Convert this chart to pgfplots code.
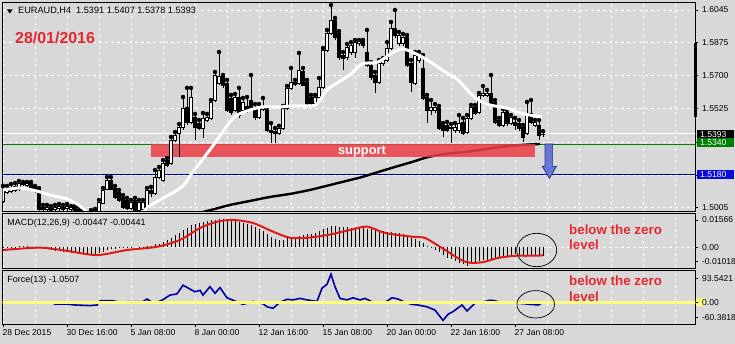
\documentclass[border=0pt]{standalone}
\usepackage{fontspec}
\setmainfont{Liberation Sans}
\usepackage{pgfplots}
\usepackage{pgfplotstable}
\pgfplotsset{compat=1.18}

\definecolor{bgc}{RGB}{216,216,216}
\definecolor{suppred}{RGB}{236,62,72}
\definecolor{lvlgreen}{RGB}{0,128,0}
\definecolor{lvlblue}{RGB}{0,0,170}
\definecolor{boxgreen}{RGB}{0,128,0}
\definecolor{boxblue}{RGB}{10,10,220}
\definecolor{arrowfill}{RGB}{100,120,215}
\definecolor{arrowdraw}{RGB}{40,50,130}
\definecolor{macdred}{RGB}{225,25,25}
\definecolor{forceblue}{RGB}{0,0,165}
\definecolor{zeroyellow}{RGB}{255,255,125}
\definecolor{annred}{RGB}{228,40,48}

\pgfplotstableread{
i o h l c
0 1.5040 1.5119 1.5029 1.5103
1 1.5087 1.5119 1.5077 1.5108
2 1.5092 1.5129 1.5082 1.5114
3 1.5098 1.5134 1.5087 1.5119
4 1.5103 1.5145 1.5092 1.5134
5 1.5134 1.5140 1.5119 1.5129
6 1.5124 1.5140 1.5114 1.5134
7 1.5134 1.5140 1.5092 1.5098
8 1.5114 1.5119 1.5082 1.5092
9 1.5103 1.5108 1.4987 1.4998
10 1.5008 1.5019 1.4982 1.4998
11 1.4998 1.5019 1.4982 1.5008
12 1.5003 1.5013 1.4976 1.4992
13 1.4998 1.5019 1.4982 1.5008
14 1.5003 1.5024 1.4987 1.5013
15 1.5008 1.5019 1.4982 1.4998
16 1.5003 1.5024 1.4987 1.5013
17 1.4998 1.5013 1.4982 1.5008
18 1.5008 1.5013 1.4976 1.4992
19 1.4998 1.5008 1.4971 1.4982
20 1.4987 1.4992 1.4961 1.4971
21 1.4971 1.4987 1.4961 1.4982
22 1.4987 1.4992 1.4961 1.4971
23 1.4976 1.4998 1.4966 1.4992
24 1.4987 1.5045 1.4976 1.5035
25 1.5029 1.5108 1.5024 1.5098
26 1.5103 1.5166 1.5098 1.5150
27 1.5150 1.5166 1.5098 1.5103
28 1.5108 1.5119 1.5050 1.5061
29 1.5087 1.5098 1.5035 1.5045
30 1.5061 1.5071 1.4998 1.5008
31 1.5045 1.5056 1.4992 1.5003
32 1.5003 1.5045 1.4992 1.5035
33 1.5045 1.5056 1.4982 1.4992
34 1.4992 1.5045 1.4982 1.5035
35 1.4998 1.5045 1.4987 1.5035
36 1.5003 1.5108 1.4992 1.5098
37 1.5098 1.5114 1.5061 1.5082
38 1.5082 1.5203 1.5071 1.5166
39 1.5166 1.5219 1.5155 1.5203
40 1.5150 1.5255 1.5140 1.5240
41 1.5255 1.5266 1.5219 1.5229
42 1.5240 1.5377 1.5229 1.5361
43 1.5361 1.5403 1.5350 1.5387
44 1.5398 1.5445 1.5271 1.5429
45 1.5429 1.5587 1.5413 1.5529
46 1.5535 1.5635 1.5440 1.5456
47 1.5456 1.5635 1.5445 1.5587
48 1.5482 1.5498 1.5361 1.5429
49 1.5450 1.5466 1.5413 1.5424
50 1.5424 1.5503 1.5371 1.5477
51 1.5466 1.5498 1.5456 1.5482
52 1.5477 1.5571 1.5466 1.5561
53 1.5571 1.5719 1.5561 1.5703
54 1.5661 1.5824 1.5650 1.5698
55 1.5698 1.5703 1.5635 1.5650
56 1.5661 1.5677 1.5508 1.5519
57 1.5582 1.5598 1.5492 1.5508
58 1.5519 1.5603 1.5508 1.5587
59 1.5587 1.5635 1.5477 1.5492
60 1.5519 1.5582 1.5508 1.5561
61 1.5540 1.5587 1.5503 1.5519
62 1.5571 1.5703 1.5519 1.5529
63 1.5535 1.5550 1.5466 1.5482
64 1.5482 1.5550 1.5471 1.5535
65 1.5524 1.5582 1.5513 1.5540
66 1.5519 1.5529 1.5403 1.5413
67 1.5413 1.5450 1.5345 1.5403
68 1.5408 1.5424 1.5345 1.5398
69 1.5398 1.5435 1.5387 1.5424
70 1.5424 1.5540 1.5413 1.5529
71 1.5529 1.5645 1.5519 1.5635
72 1.5635 1.5740 1.5624 1.5666
73 1.5666 1.5677 1.5645 1.5656
74 1.5661 1.5819 1.5650 1.5729
75 1.5724 1.5740 1.5645 1.5650
76 1.5666 1.5677 1.5540 1.5556
77 1.5587 1.5598 1.5535 1.5556
78 1.5556 1.5598 1.5540 1.5587
79 1.5587 1.5687 1.5577 1.5640
80 1.5640 1.5845 1.5629 1.5834
81 1.5834 1.5940 1.5824 1.5924
82 1.5924 1.6071 1.5913 1.5992
83 1.5992 1.6003 1.5887 1.5903
84 1.5924 1.5934 1.5782 1.5798
85 1.5808 1.5824 1.5729 1.5792
86 1.5798 1.5866 1.5782 1.5850
87 1.5824 1.5876 1.5808 1.5861
88 1.5824 1.5887 1.5792 1.5876
89 1.5871 1.5887 1.5855 1.5882
90 1.5882 1.5887 1.5845 1.5861
91 1.5824 1.5940 1.5745 1.5755
92 1.5755 1.5771 1.5677 1.5693
93 1.5703 1.5719 1.5608 1.5666
94 1.5666 1.5782 1.5656 1.5766
95 1.5766 1.5792 1.5750 1.5782
96 1.5782 1.5876 1.5771 1.5845
97 1.5845 1.5982 1.5834 1.5950
98 1.5950 1.6045 1.5897 1.5913
99 1.5871 1.5929 1.5855 1.5913
100 1.5871 1.5919 1.5855 1.5903
101 1.5903 1.5913 1.5745 1.5755
102 1.5766 1.5782 1.5613 1.5666
103 1.5661 1.5824 1.5650 1.5808
104 1.5782 1.5824 1.5766 1.5808
105 1.5740 1.5808 1.5571 1.5582
106 1.5587 1.5598 1.5450 1.5519
107 1.5519 1.5571 1.5492 1.5535
108 1.5519 1.5550 1.5503 1.5535
109 1.5529 1.5540 1.5413 1.5424
110 1.5440 1.5450 1.5377 1.5413
111 1.5440 1.5456 1.5403 1.5413
112 1.5424 1.5445 1.5345 1.5429
113 1.5413 1.5450 1.5398 1.5429
114 1.5413 1.5492 1.5398 1.5450
115 1.5456 1.5477 1.5387 1.5398
116 1.5403 1.5492 1.5392 1.5477
117 1.5477 1.5545 1.5466 1.5535
118 1.5535 1.5545 1.5492 1.5503
119 1.5508 1.5608 1.5498 1.5598
120 1.5598 1.5645 1.5587 1.5608
121 1.5598 1.5624 1.5587 1.5608
122 1.5608 1.5703 1.5545 1.5556
123 1.5561 1.5571 1.5445 1.5456
124 1.5466 1.5477 1.5429 1.5440
125 1.5440 1.5524 1.5429 1.5508
126 1.5508 1.5519 1.5435 1.5450
127 1.5450 1.5492 1.5440 1.5482
128 1.5456 1.5477 1.5413 1.5440
129 1.5450 1.5466 1.5408 1.5424
130 1.5429 1.5440 1.5350 1.5377
131 1.5398 1.5561 1.5387 1.5492
132 1.5503 1.5571 1.5445 1.5456
133 1.5440 1.5466 1.5429 1.5456
134 1.5440 1.5466 1.5361 1.5387
135 1.5391 1.5407 1.5378 1.5393
}\candles

\pgfplotstableread{
x p
0 1.5098
4.25 1.5108
8.5 1.5092
11.75 1.5071
16 1.5050
18.5 1.5024
20.5 1.4992
21.75 1.4971
28 1.4950
34.25 1.4971
36.25 1.5008
40.5 1.5061
44.75 1.5114
47.25 1.5187
49.75 1.5255
52.25 1.5324
54.75 1.5398
56.75 1.5456
58.5 1.5492
61.75 1.5519
65 1.5535
69.25 1.5535
72.5 1.5540
76.75 1.5540
78.5 1.5550
81 1.5624
83.5 1.5661
86.75 1.5703
89.75 1.5761
93.75 1.5771
97.25 1.5819
99.75 1.5840
102.25 1.5824
104.75 1.5798
107.25 1.5766
110.5 1.5719
113.75 1.5677
116.75 1.5608
119.25 1.5566
121.75 1.5545
124.25 1.5535
126.75 1.5524
129.25 1.5503
131.75 1.5492
134.75 1.5482
}\mawhite

\pgfplotstableread{
x p
48 1.4971
53 1.4998
56.75 1.5019
61.75 1.5040
66.75 1.5061
71.75 1.5077
76.75 1.5098
81.75 1.5124
86.75 1.5150
89.75 1.5166
93.75 1.5192
98 1.5219
102.25 1.5245
106.25 1.5271
110.5 1.5287
115.5 1.5298
119.25 1.5308
124.25 1.5324
129.25 1.5334
134.25 1.5340
}\mablack

\pgfplotstableread{
i v
0 0.0004
1 0.0004
2 0.0005
3 0.0005
4 0.0006
5 0.0006
6 0.0006
7 0.0005
8 0.0004
9 0.0000
10 -0.0006
11 -0.0011
12 -0.0015
13 -0.0018
14 -0.0021
15 -0.0024
16 -0.0026
17 -0.0028
18 -0.0031
19 -0.0033
20 -0.0035
21 -0.0036
22 -0.0037
23 -0.0037
24 -0.0032
25 -0.0024
26 -0.0015
27 -0.0009
28 -0.0006
29 -0.0004
30 -0.0004
31 -0.0003
32 -0.0001
33 0.0000
34 0.0002
35 0.0004
36 0.0008
37 0.0011
38 0.0017
39 0.0022
40 0.0031
41 0.0040
42 0.0054
43 0.0068
44 0.0081
45 0.0098
46 0.0111
47 0.0124
48 0.0130
49 0.0136
50 0.0141
51 0.0146
52 0.0151
53 0.0155
54 0.01566
55 0.01566
56 0.0155
57 0.0152
58 0.0148
59 0.0144
60 0.0137
61 0.0131
62 0.0124
63 0.0115
64 0.0104
65 0.0090
66 0.0076
67 0.0060
68 0.0048
69 0.0042
70 0.0043
71 0.0050
72 0.0056
73 0.0061
74 0.0066
75 0.0070
76 0.0073
77 0.0077
78 0.0083
79 0.0091
80 0.0101
81 0.0110
82 0.0117
83 0.0118
84 0.0116
85 0.0113
86 0.0112
87 0.0110
88 0.0109
89 0.0107
90 0.0106
91 0.0105
92 0.0101
93 0.0097
94 0.0094
95 0.0090
96 0.0088
97 0.0086
98 0.0083
99 0.0079
100 0.0073
101 0.0063
102 0.0052
103 0.0045
104 0.0036
105 0.0024
106 0.0010
107 -0.0001
108 -0.0012
109 -0.0026
110 -0.0042
111 -0.0056
112 -0.0066
113 -0.0077
114 -0.0084
115 -0.0091
116 -0.01018
117 -0.0088
118 -0.0082
119 -0.0076
120 -0.0071
121 -0.0067
122 -0.0063
123 -0.0059
124 -0.0054
125 -0.0049
126 -0.0045
127 -0.0041
128 -0.0038
129 -0.0039
130 -0.0041
131 -0.0042
132 -0.0043
133 -0.0045
134 -0.0046
135 -0.00447
}\macdhist

\pgfplotstableread{
x v
0 -0.0014
9.25 -0.0001
16 -0.0019
23.5 -0.0042
31 -0.0014
38.5 0.0004
44.25 0.0042
49.25 0.0108
53.5 0.0143
57.5 0.0153
62.5 0.0136
67.5 0.0088
71.75 0.0054
76 0.0054
81 0.0069
86.75 0.0097
91 0.0116
95.5 0.0081
102.25 0.0060
105.5 0.0053
109.75 -0.0003
115.5 -0.0079
119.75 -0.0082
123.75 -0.0058
128 -0.0046
130.5 -0.0046
135 -0.00441
}\macdsig

\pgfplotstableread{
x v
8 -3
12.5 -3
13 -6
16 -6
18 -9
21.75 -11
23.5 -9
24.25 5
27.5 5
29.25 0
31.25 2
35 2
36 11
37.25 0
38.5 0
39.75 7
41.75 24
43.5 28
45 57
46.75 44
48 35
49.25 40
50 24
51.75 52
53 30
54.25 49
56 15
57.5 7
60 -7
62.5 3
65 -5
66 -15
67.5 -20
69.25 0
71 10
72.5 8
74.25 13
76 8
78.5 3
79.75 47
81 60
82 93.54
83 52
84.25 13
86 8
87.5 15
89.25 8
90.5 13
93 -3
95.5 0
97.25 15
98.75 11
100.5 0
102.25 -7
103.75 -9
106 -15
108 -26
110 -60.38
111.25 -40
112.5 -31
114.75 -9
116 -29
118 -3
119.75 0
121.75 7
123 5
124.25 0
126.25 -3
128.75 -3
131.25 -6
133.75 -9
135 -1.05
}\force

\pgfplotsset{
  mtgeom/.style={scale only axis, width=692.8bp, xmin=-0.1, xmax=173.1, anchor=south west},
  mtpanel/.style={mtgeom,
    axis line style={black, line width=0.8bp},
    tick style={black, line width=0.8bp},
    grid style={white, line width=0.7bp, dash pattern=on 3bp off 3bp},
    xtick={0,16,32,48,64,80,96,112,128},
    minor xtick={8,24,40,56,72,88,104,120,136,144,152,160,168},
    xmajorgrids, xminorgrids, minor tick length=0pt,
    ymajorgrids,
    scaled y ticks=false, scaled x ticks=false,
    tick align=outside, major tick length=3bp,
    ytick pos=right, yticklabel pos=right,
    xtick pos=left,
    tick label style={font=\fontsize{8.6}{10}\selectfont},
    yticklabel style={anchor=west, inner sep=0pt, xshift=3.5bp},
  },
}

\begin{document}
\begin{tikzpicture}
\fill[bgc] (0,0) rectangle (735bp,344bp);

% main price panel
\begin{axis}[mtpanel, at={(2.6bp,133bp)}, height=208.3bp,
  ymin=1.49871, ymax=1.60834,
  ytick={1.5005,1.5175,1.5350,1.5525,1.5700,1.5875,1.6045},
  yticklabels={1.5005,,,1.5525,1.5700,1.5875,1.6045},
  xticklabels={}, xtick style={draw=none}]
\addplot[white, line width=0.8bp] coordinates {(-1,1.5393) (175,1.5393)};
\addplot[lvlgreen, line width=0.8bp] coordinates {(-1,1.5340) (175,1.5340)};
\addplot[lvlblue, line width=0.8bp] coordinates {(-1,1.5180) (175,1.5180)};
\addplot[black, line width=2.4bp, smooth] table[x=x,y=p] {\mablack};
\fill[suppred, fill opacity=0.86] (axis cs:37,1.5271) rectangle (axis cs:133,1.5340);
\addplot[only marks, mark=none, error bars/.cd, y dir=minus, y explicit, error mark=none,
  error bar style={black, line width=0.8bp}]
  table[x=i, y=h, y error minus expr={\thisrow{h}-\thisrow{l}}] {\candles};
\end{axis}

% candle bodies
\begin{axis}[mtgeom, at={(2.6bp,133bp)}, height=208.3bp,
  ymin=1.49871, ymax=1.60834, hide axis, ybar stacked, bar width=0.72]
\addplot[draw=none, fill=none] table[x=i, y expr={min(\thisrow{o},\thisrow{c})}] {\candles};
\addplot[fill=white, draw=black, line width=0.7bp] table[x=i, y expr={max(\thisrow{c}-\thisrow{o},0)}] {\candles};
\addplot[fill=black, draw=black, line width=0.7bp] table[x=i, y expr={max(\thisrow{o}-\thisrow{c},0)}] {\candles};
\end{axis}

% overlays: white MA, support text, arrow
\begin{axis}[mtgeom, at={(2.6bp,133bp)}, height=208.3bp,
  ymin=1.49871, ymax=1.60834, hide axis]
\addplot[white, line width=3bp, smooth] table[x=x,y=p] {\mawhite};
\node[text=white, font=\bfseries\fontsize{12.9}{14}\selectfont, inner sep=0] at (axis cs:89.75,1.5302) {support};
\filldraw[fill=arrowfill, draw=arrowdraw, line width=0.7bp]
  (axis cs:135.5,1.5340) -- (axis cs:137.4,1.5340) -- (axis cs:137.4,1.5223) -- (axis cs:138.4,1.5223)
  -- (axis cs:136.6,1.5159) -- (axis cs:134.8,1.5223) -- (axis cs:135.5,1.5223) -- cycle;
\end{axis}

% MACD panel
\begin{axis}[mtpanel, at={(2.6bp,75.7bp)}, height=55bp,
  ymin=-0.01156, ymax=0.019,
  ytick={0}, yticklabels={0.00},
  extra y ticks={-0.0079,0.0153}, extra y tick labels={-0.01018,0.01566},
  extra y tick style={grid=none},
  xticklabels={}, xtick style={draw=none}]
\addplot[ycomb, black, line width=0.7bp, no markers] table[x=i,y=v] {\macdhist};
\addplot[macdred, line width=2bp, no markers, smooth] table[x=x,y=v] {\macdsig};
\end{axis}

% yellow highlight behind force 0.00 label
\fill[zeroyellow] (696bp,344bp-298bp) rectangle (704.5bp,344bp-306bp);

% Force panel
\begin{axis}[mtpanel, at={(2.6bp,19.5bp)}, height=53.8bp,
  ymin=-74, ymax=105.3,
  ytick={0}, yticklabels={0.00},
  extra y ticks={-50,80}, extra y tick labels={-60.3818,93.5421},
  extra y tick style={grid=none},
  xticklabels={28 Dec 2015,30 Dec 16:00,5 Jan 08:00,8 Jan 00:00,12 Jan 16:00,15 Jan 08:00,20 Jan 00:00,22 Jan 16:00,27 Jan 08:00},
  xticklabel style={anchor=north west, inner sep=0pt, xshift=-0.5bp, yshift=-1.8bp}]
\addplot[forceblue, line width=1.6bp, no markers] table[x=x,y=v] {\force};
\addplot[zeroyellow, line width=3bp, no markers] coordinates {(-1,0) (175,0)};
\end{axis}

% price labels boxes
\fill[black] (693.5bp,344bp-43.3bp) rectangle (696.5bp,344bp-116.7bp);
\fill[black] (696.7bp,344bp-130bp) rectangle (734bp,344bp-138.3bp);
\node[text=white, anchor=west, inner sep=0, font=\fontsize{8.6}{10}\selectfont] at (700bp,344bp-134.2bp) {1.5393};
\fill[boxgreen] (696.7bp,344bp-138.3bp) rectangle (734bp,344bp-147.3bp);
\node[text=white, anchor=west, inner sep=0, font=\fontsize{8.6}{10}\selectfont] at (700bp,344bp-142.8bp) {1.5340};
\fill[boxblue] (696.7bp,344bp-170bp) rectangle (734bp,344bp-179.3bp);
\node[text=white, anchor=west, inner sep=0, font=\fontsize{8.6}{10}\selectfont] at (700bp,344bp-174.6bp) {1.5180};

% header
\fill[black] (7bp,344bp-9.5bp) -- (12.5bp,344bp-9.5bp) -- (9.75bp,344bp-13.5bp) -- cycle;
\node[anchor=base west, inner sep=0, font=\fontsize{9.2}{11}\selectfont] at (18bp,344bp-14bp) {EURAUD,H4\ \ 1.5391 1.5407 1.5378 1.5393};
\node[anchor=base west, inner sep=0, text=annred, font=\bfseries\fontsize{16}{18}\selectfont] at (15bp,344bp-43.3bp) {28/01/2016};

% indicator labels
\node[anchor=base west, inner sep=0, font=\fontsize{9}{11}\selectfont] at (7.3bp,344bp-225.7bp) {MACD(12,26,9) -0.00447 -0.00441};
\node[anchor=base west, inner sep=0, font=\fontsize{9}{11}\selectfont] at (7.3bp,344bp-282.5bp) {Force(13) -1.0507};

% annotations
\node[anchor=base west, inner sep=0, text=annred, font=\bfseries\fontsize{13.4}{15}\selectfont] at (569bp,344bp-234.3bp) {below the zero};
\node[anchor=base west, inner sep=0, text=annred, font=\bfseries\fontsize{13.4}{15}\selectfont] at (569bp,344bp-250bp) {level};
\node[anchor=base west, inner sep=0, text=annred, font=\bfseries\fontsize{13.4}{15}\selectfont] at (569bp,344bp-286bp) {below the zero};
\node[anchor=base west, inner sep=0, text=annred, font=\bfseries\fontsize{13.4}{15}\selectfont] at (569bp,344bp-301.7bp) {level};
\draw[black, line width=0.7bp] (536.7bp,344bp-250bp) ellipse [x radius=20bp, y radius=16.7bp];
\draw[black, line width=0.7bp] (535.7bp,344bp-304.3bp) ellipse [x radius=18.8bp, y radius=13.7bp];

\pgfresetboundingbox
\path[use as bounding box] (0,0) rectangle (735bp,344bp);
\end{tikzpicture}
\end{document}
